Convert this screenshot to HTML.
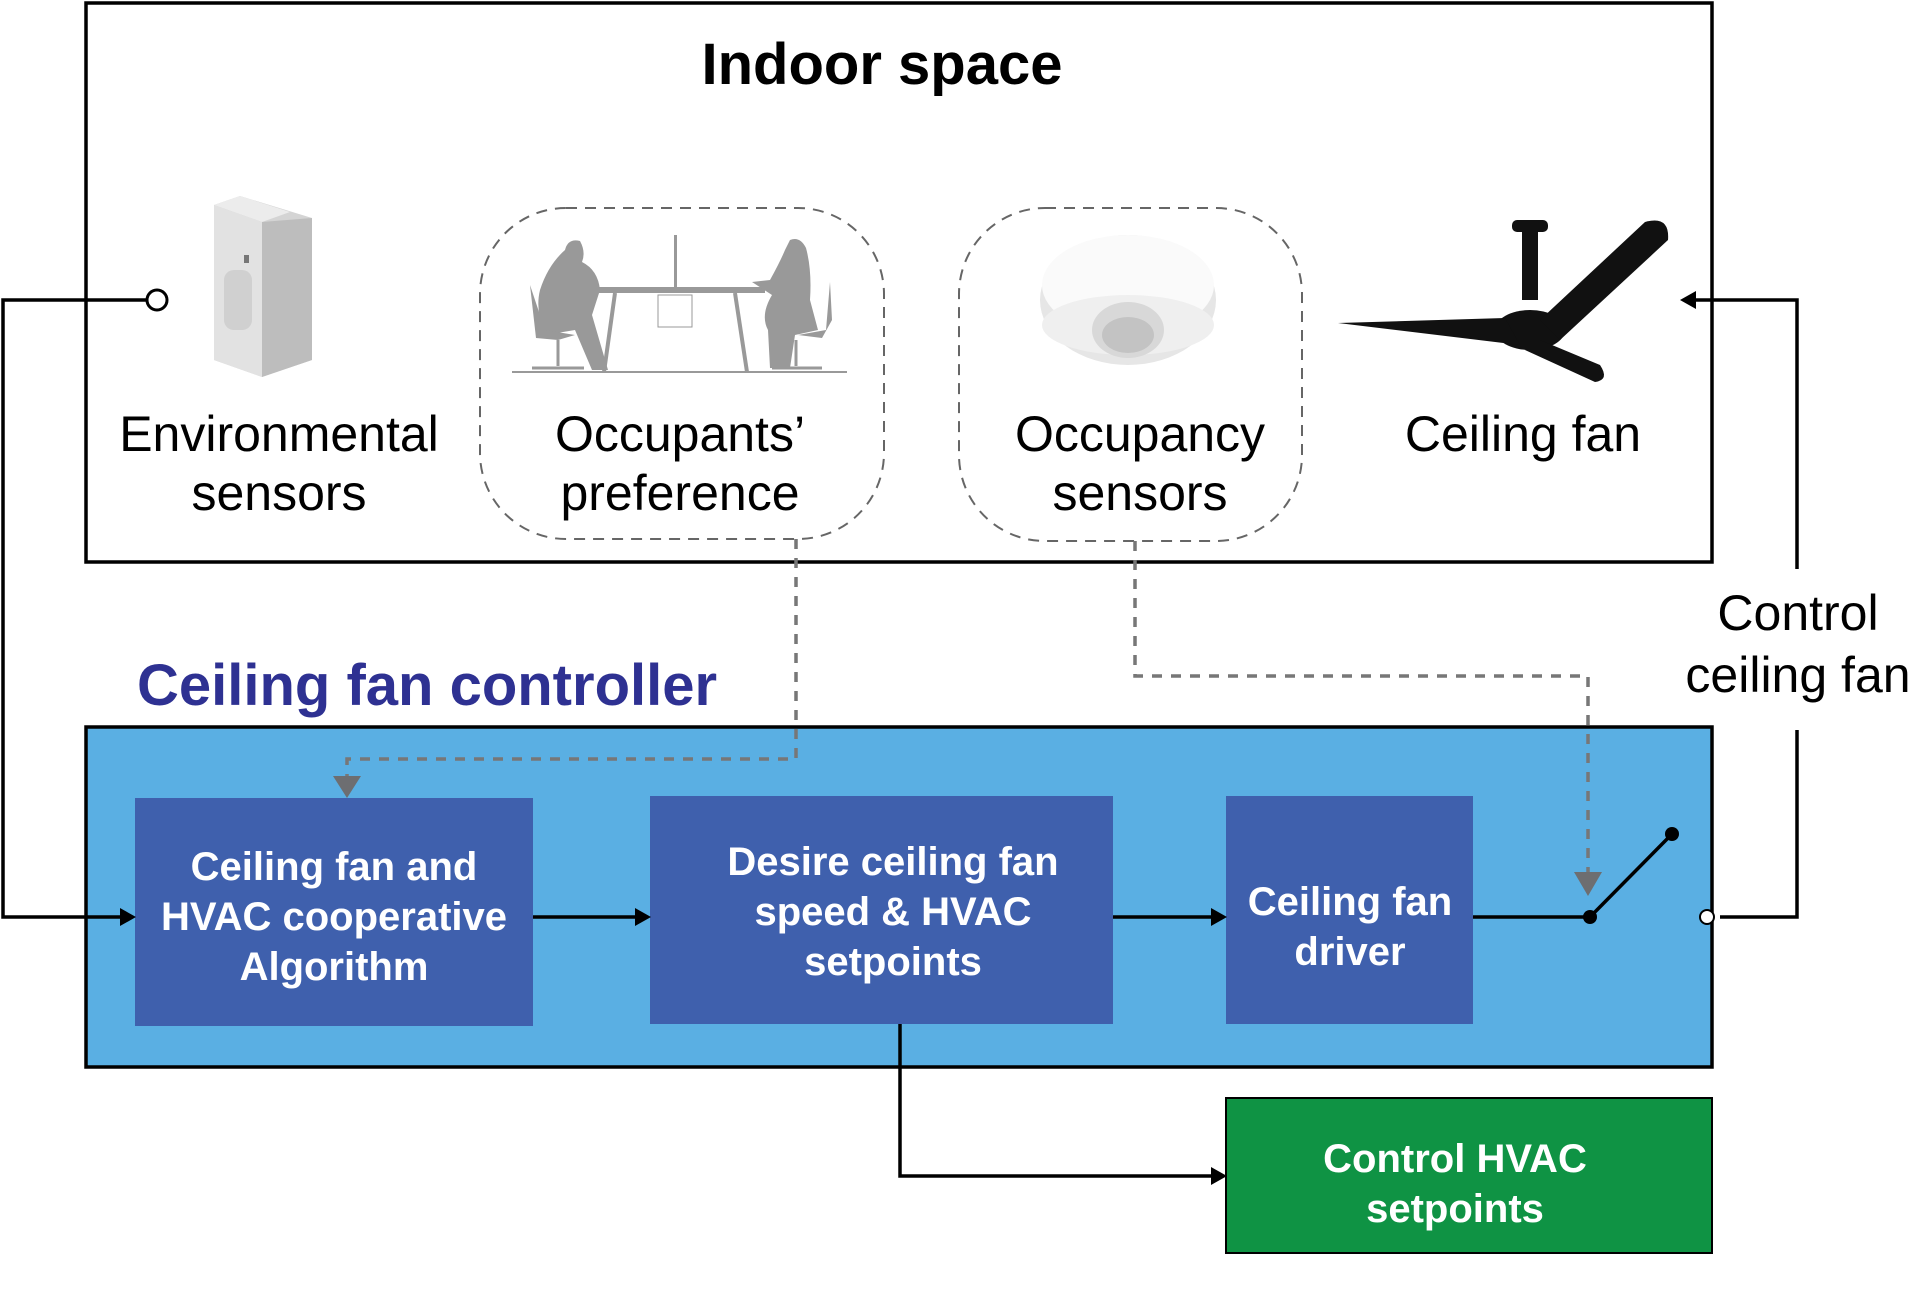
<!DOCTYPE html>
<html><head><meta charset="utf-8"><style>
html,body{margin:0;padding:0;background:#fff;}
svg{display:block;}
text{font-family:"Liberation Sans",Arial,sans-serif;}
</style></head><body>
<svg width="1919" height="1311" viewBox="0 0 1919 1311" xmlns="http://www.w3.org/2000/svg">
<!-- Indoor space box -->
<rect x="86" y="3" width="1626" height="559" fill="#fff" stroke="#000" stroke-width="3.5"/>
<text x="882" y="84" font-size="58" font-weight="bold" text-anchor="middle">Indoor space</text>

<!-- dashed rounded boxes -->
<rect x="480" y="208" width="404" height="331" rx="86" fill="none" stroke="#666" stroke-width="2" stroke-dasharray="11,8"/>
<rect x="959" y="208" width="343" height="333" rx="86" fill="none" stroke="#666" stroke-width="2" stroke-dasharray="11,8"/>

<!-- environmental sensor -->
<g>
<path d="M214,205 L240,196 L312,218 L312,360 L262,377 L214,360 Z" fill="#d4d4d4"/>
<path d="M214,205 L240,196 L290,212 L262,222 Z" fill="#ececec"/>
<path d="M262,222 L312,218 L312,360 L262,377 Z" fill="#bdbdbd"/>
<path d="M214,205 L262,222 L262,377 L214,360 Z" fill="#e2e2e2"/>
<rect x="224" y="270" width="28" height="60" rx="10" fill="#d0d0d0"/>
<rect x="244" y="255" width="5" height="8" fill="#777"/>
</g>

<!-- occupants -->
<g fill="#999" stroke="#999">
<line x1="512" y1="372" x2="847" y2="372" stroke-width="2"/>
<rect x="587" y="287" width="178" height="6" stroke="none"/>
<rect x="674" y="235" width="3" height="55" stroke="none"/>
<line x1="615" y1="293" x2="604" y2="372" stroke-width="4"/>
<line x1="735" y1="293" x2="747" y2="372" stroke-width="4"/>
<rect x="658" y="295" width="34" height="32" fill="none" stroke-width="1"/>
<path d="M565,250 Q568,238 580,241 Q586,252 582,262 Q598,270 600,290 L592,315 L608,370 L592,370 L575,330 L545,335 Q535,310 540,290 Q548,265 565,250 Z" stroke="none"/>
<path d="M530,285 L545,330 L575,335 L558,340 L536,338 Z" stroke="none"/>
<line x1="558" y1="340" x2="558" y2="366" stroke-width="3"/>
<line x1="532" y1="368" x2="584" y2="368" stroke-width="3"/>
<path d="M790,240 Q800,236 806,248 Q812,270 810,300 L818,330 L795,335 L790,368 L770,368 L768,330 Q760,315 772,295 L752,282 L770,280 Q780,262 785,250 Z" stroke="none"/>
<path d="M830,282 L826,330 L798,335 L822,338 L832,320 Z" stroke="none"/>
<line x1="796" y1="340" x2="796" y2="366" stroke-width="3"/>
<line x1="772" y1="368" x2="822" y2="368" stroke-width="3"/>
</g>

<!-- occupancy sensor -->
<g>
<ellipse cx="1128" cy="300" rx="88" ry="65" fill="#e6e6e6"/>
<ellipse cx="1128" cy="285" rx="86" ry="50" fill="#fafafa"/>
<ellipse cx="1128" cy="325" rx="86" ry="30" fill="#efefef"/>
<ellipse cx="1128" cy="330" rx="36" ry="28" fill="#d8d8d8"/>
<ellipse cx="1128" cy="335" rx="26" ry="18" fill="#c3c3c3"/>
</g>

<!-- ceiling fan -->
<g fill="#111">
<rect x="1512" y="220" width="36" height="12" rx="5"/>
<rect x="1522" y="230" width="16" height="70"/>
<ellipse cx="1530" cy="330" rx="35" ry="20"/>
<path d="M1338,323 L1505,318 L1520,345 Z"/>
<path d="M1540,320 L1645,222 Q1670,215 1668,240 L1560,340 Z"/>
<path d="M1540,340 L1600,365 Q1610,380 1595,382 L1525,350 Z"/>
</g>

<!-- labels indoor -->
<g font-size="50" text-anchor="middle">
<text x="279" y="451">Environmental</text>
<text x="279" y="510">sensors</text>
<text x="680" y="451">Occupants’</text>
<text x="680" y="510">preference</text>
<text x="1140" y="451">Occupancy</text>
<text x="1140" y="510">sensors</text>
<text x="1523" y="451">Ceiling fan</text>
<text x="1798" y="630">Control</text>
<text x="1798" y="692">ceiling fan</text>
</g>

<!-- controller -->
<text x="137" y="705" font-size="58" font-weight="bold" fill="#2e3192">Ceiling fan controller</text>
<rect x="86" y="727" width="1626" height="340" fill="#5aafe3" stroke="#000" stroke-width="3.5"/>

<rect x="135" y="798" width="398" height="228" fill="#3f60ad"/>
<rect x="650" y="796" width="463" height="228" fill="#3f60ad"/>
<rect x="1226" y="796" width="247" height="228" fill="#3f60ad"/>
<rect x="1226" y="1098" width="486" height="155" fill="#0f9344" stroke="#000" stroke-width="2"/>

<g font-size="40" font-weight="bold" fill="#fff" text-anchor="middle">
<text x="334" y="880">Ceiling fan and</text>
<text x="334" y="930">HVAC cooperative</text>
<text x="334" y="980">Algorithm</text>
<text x="893" y="875">Desire ceiling fan</text>
<text x="893" y="925">speed &amp; HVAC</text>
<text x="893" y="975">setpoints</text>
<text x="1350" y="915">Ceiling fan</text>
<text x="1350" y="965">driver</text>
<text x="1455" y="1172">Control HVAC</text>
<text x="1455" y="1222">setpoints</text>
</g>

<!-- solid connectors -->
<g stroke="#000" stroke-width="3.5" fill="none">
<polyline points="149,300 3,300 3,917 120,917"/>
<line x1="533" y1="917" x2="635" y2="917"/>
<line x1="1113" y1="917" x2="1211" y2="917"/>
<line x1="1473" y1="917" x2="1590" y2="917"/>
<line x1="1590" y1="917" x2="1672" y2="834"/>
<polyline points="1720,917 1797,917 1797,730"/>
<polyline points="1797,569 1797,300 1694,300"/>
<polyline points="900,1024 900,1176 1211,1176"/>
</g>
<g fill="#000">
<path d="M120,908 L136,917 L120,926 Z"/>
<path d="M635,908 L651,917 L635,926 Z"/>
<path d="M1211,908 L1227,917 L1211,926 Z"/>
<path d="M1211,1167 L1227,1176 L1211,1185 Z"/>
<path d="M1696,291 L1680,300 L1696,309 Z"/>
<circle cx="1590" cy="917" r="7"/>
<circle cx="1672" cy="834" r="7"/>
</g>
<circle cx="157" cy="300" r="10" fill="#fff" stroke="#000" stroke-width="3"/>
<circle cx="1707" cy="917" r="7" fill="#fff" stroke="#000" stroke-width="2"/>

<!-- dashed connectors -->
<g stroke="#777" stroke-width="3.5" fill="none" stroke-dasharray="10,9">
<polyline points="796,539 796,759 347,759 347,780"/>
<polyline points="1135,541 1135,676 1588,676 1588,872"/>
</g>
<g fill="#6d6e71">
<path d="M333,776 L361,776 L347,798 Z"/>
<path d="M1574,872 L1602,872 L1588,896 Z"/>
</g>
</svg>
</body></html>
